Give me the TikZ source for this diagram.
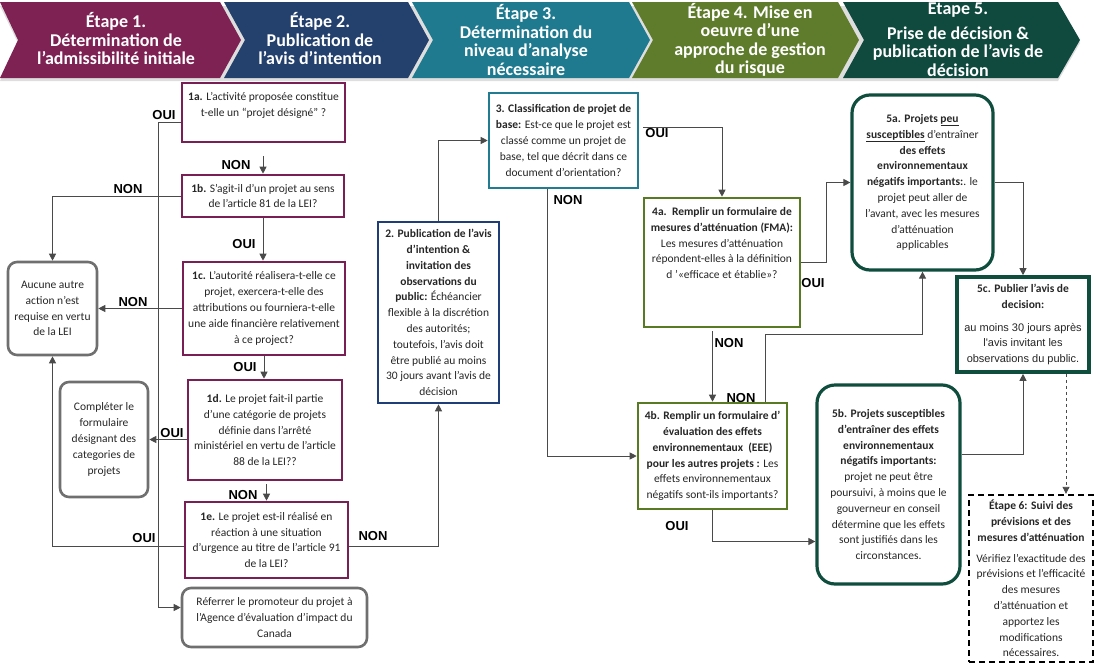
\documentclass[tikz,border=0pt]{standalone}
\usepackage{fontspec}
\setmainfont{Carlito}
\newfontfamily\arialfont{Liberation Sans}
\usetikzlibrary{arrows.meta}
\definecolor{stagea}{HTML}{7E2254}
\definecolor{stageb}{HTML}{24406C}
\definecolor{stagec}{HTML}{1F7A8F}
\definecolor{staged}{HTML}{5E7C2C}
\definecolor{stagee}{HTML}{104A3E}
\definecolor{purp}{HTML}{7A1E56}
\definecolor{navy}{HTML}{1F3E78}
\definecolor{teal}{HTML}{217C91}
\definecolor{olive}{HTML}{587A22}
\definecolor{dgreen}{HTML}{0F4D3D}
\definecolor{boxgrey}{HTML}{6F6F6F}
\definecolor{linkgrey}{HTML}{4A4A4A}
\definecolor{inkgrey}{HTML}{262626}
\begin{document}
\begin{tikzpicture}[x=1pt,y=-1pt,
  font=\fontsize{11.5}{15.8}\selectfont, text=inkgrey,
  stagetxt/.style={text=white, align=center, font=\fontsize{18}{18.5}\selectfont\bfseries},
  qbox/.style={draw=#1, line width=2.6pt, fill=white, align=center, inner sep=1pt},
  endbox/.style={draw=boxgrey, line width=2.6pt, rounded corners=9pt, align=center, inner sep=1pt},
  decbox/.style={draw=dgreen, line width=3.2pt, rounded corners=18pt, align=center, inner sep=1pt},
  yn/.style={text=black, font=\arialfont\fontsize{13}{13}\selectfont\bfseries},
  link/.style={draw=linkgrey, line width=0.9pt, -{Triangle[length=7pt,width=7pt]}}]
\useasboundingbox (0,0) rectangle (1100,667);

\fill[black!13] (0,6) -- (1058,6) -- (1080,43) -- (1058,81) -- (0,81) -- (18,43) -- cycle;
\fill[stagea] (0,2) -- (220,2) -- (241,40) -- (220,78) -- (0,78) -- (18,40) -- cycle;
\fill[stageb] (224,2) -- (408,2) -- (429,40) -- (408,78) -- (224,78) -- (245,40) -- cycle;
\fill[stagec] (412,2) -- (629,2) -- (650,40) -- (629,78) -- (412,78) -- (433,40) -- cycle;
\fill[staged] (632,2) -- (838,2) -- (859,40) -- (838,78) -- (632,78) -- (653,40) -- cycle;
\fill[stagee] (843,2) -- (1058,2) -- (1080,40) -- (1058,78) -- (843,78) -- (864,40) -- cycle;
\node[stagetxt] (etape1) at (116,39) {Étape 1.\\Détermination de\\l’admissibilité initiale};
\node[stagetxt] (etape2) at (320,39) {Étape 2.\\Publication de\\l'avis d'intention};
\node[stagetxt] (etape3) at (526,40) {Étape 3.\\Détermination du\\niveau d’analyse\\nécessaire};
\node[stagetxt] (etape4) at (750,40) {Étape 4. Mise en\\oeuvre d’une\\approche de gestion\\du risque};
\node[stagetxt] (etape5) at (958,38) {Étape 5.\\[6pt]Prise de décision \&\\publication de l'avis de\\décision};

\node[qbox=purp, minimum width=163, minimum height=59] (b1a) at (263.5,112.5)
  {\textbf{1a.} L’activité proposée constitue\\t-elle un “projet désigné” ?\\\mbox{}};
\node[qbox=purp, minimum width=162, minimum height=42] (b1b) at (263,196)
  {\textbf{1b.} S’agit-il d’un projet au sens\\de l’article 81 de la LEI?};
\node[qbox=purp, minimum width=162, minimum height=93] (b1c) at (264,308.5)
  {\textbf{1c.} L’autorité réalisera-t-elle ce\\projet, exercera-t-elle des\\attributions ou fourniera-t-elle\\une aide financière relativement\\à ce project?};
\node[qbox=purp, minimum width=154, minimum height=100] (b1d) at (265,430)
  {\textbf{1d.} Le projet fait-il partie\\d’une catégorie de projets\\définie dans l’arrêté\\ministériel en vertu de l’article\\88 de la LEI??};
\node[qbox=purp, minimum width=163, minimum height=76] (b1e) at (266.5,540)
  {\textbf{1e.} Le projet est-il réalisé en\\réaction à une situation\\d’urgence au titre de l’article 91\\de la LEI?};
\node[endbox, minimum width=89, minimum height=93] (aucune) at (52.5,308.5)
  {Aucune autre\\action n’est\\requise en vertu\\de la LEI};
\node[endbox, minimum width=88, minimum height=115] (completer) at (104,439.5)
  {Compléter le\\formulaire\\désignant des\\categories de\\projets};
\node[endbox, minimum width=185, minimum height=59] (referer) at (274.5,617.5)
  {Réferrer le promoteur du projet à\\l’Agence d’évaluation d’impact du\\Canada};
\node[qbox=navy, minimum width=121, minimum height=181] (b2) at (438.5,312.5)
  {\textbf{2. Publication de l’avis}\\\textbf{d’intention \&}\\\textbf{invitation des}\\\textbf{observations du}\\\textbf{public:} Échéancier\\flexible à la discrétion\\des autorités;\\toutefois, l’avis doit\\être publié au moins\\30 jours avant l’avis de\\décision};
\node[qbox=teal, minimum width=149, minimum height=95] (b3) at (563.5,140.5)
  {\textbf{3. Classification de projet de}\\\textbf{base:} Est-ce que le projet est\\classé comme un projet de\\base, tel que décrit dans ce\\document d’orientation?};
\node[qbox=olive, minimum width=156, minimum height=129] (b4a) at (722,262.5)
  {\textbf{4a.\ \ Remplir un formulaire de}\\\textbf{mesures d’atténuation (FMA):}\\Les mesures d'atténuation\\répondent-elles à la définition\\d '«efficace et établie»?\\[23pt]\mbox{}};
\node[qbox=olive, minimum width=149, minimum height=106] (b4b) at (712.5,456)
  {\textbf{4b. Remplir un formulaire d’}\\\textbf{évaluation des effets}\\\textbf{environnementaux\ \ (EEE)}\\\textbf{pour les autres projets :} Les\\effets environnementaux\\négatifs sont-ils importants?};
\node[decbox, minimum width=141, minimum height=175] (b5a) at (922.5,182.5)
  {\textbf{5a. Projets \underline{peu}}\\\textbf{\underline{susceptibles}} d’entraîner\\\textbf{des effets}\\\textbf{environnementaux}\\\textbf{négatifs importants:}. le\\projet peut aller de\\l'avant, avec les mesures\\d'atténuation\\applicables};
\node[decbox, minimum width=143, minimum height=199] (b5b) at (888.5,484.5)
  {\textbf{5b. Projets susceptibles}\\\textbf{d’entraîner des effets}\\\textbf{environnementaux}\\\textbf{négatifs importants:}\\projet ne peut être\\poursuivi, à moins que le\\gouverneur en conseil\\détermine que les effets\\sont justifiés dans les\\circonstances.};
\node[qbox=dgreen, line width=3.6pt, minimum width=132, minimum height=95] (b5c) at (1023,324.5)
  {\textbf{5c. Publier l’avis de}\\\textbf{decision:}\\[7pt]{\arialfont\fontsize{11}{15.8}\selectfont au moins 30 jours après}\\{\arialfont\fontsize{11}{15.8}\selectfont l'avis invitant les}\\{\arialfont\fontsize{11}{15.8}\selectfont observations du public.}};
\node[qbox=black, line width=2.4pt, dash pattern=on 6pt off 4pt, minimum width=124, minimum height=167] (b6) at (1031,578.5)
  {\textbf{Étape 6: Suivi des}\\\textbf{prévisions et des}\\\textbf{mesures d’atténuation}\\[5pt]Vérifiez l’exactitude des\\prévisions et l’efficacité\\des mesures\\d’atténuation et\\apportez les\\modifications\\nécessaires.};

\draw[link, shorten <=13pt] (b1a.south -| b1b.north) -- (b1b.north);
\draw[link] (b1b.west) -| (aucune.north);
\draw[link] (b1b.south) -- (b1b.south |- b1c.north);
\draw[link] (b1c.west) -- (aucune.east);
\draw[link] (b1c.south) -- (b1c.south |- b1d.north);
\draw[link] (completer.east -| b1d.west) -- (completer.east);
\draw[link, shorten <=3pt] (b1d.south -| b1e.north) -- (b1e.north);
\draw[link] ([yshift=-6pt]b1e.west) -| (aucune.south);
\draw[link] ([yshift=-6pt]b1e.east) -| (b2.south);
\draw[link] ([yshift=-10pt]b1a.west) -- ++(-22,0) |- ([yshift=10pt]referer.west);
\draw[link] (b2.north) |- (b3.west);
\draw[link] ([xshift=4pt,yshift=13pt]b3.east) -| (b4a.north);
\draw[link] ([xshift=-16pt]b3.south) |- (b4b.west);
\draw[link] (b4a.east) -- ++(25,0) |- (b5a.west);
\draw[link, shorten <=3pt] (b4a.south -| b4b.north) -- (b4b.north);
\draw[link] ([xshift=53pt]b4b.north) -- ++(0,-67) -| (b5a.south);
\draw[link] (b4b.south) |- ([yshift=-57pt]b5b.west);
\draw[link] (b5a.east) -| (b5c.north);
\draw[link] ([yshift=30pt]b5b.east) -| (b5c.south);
\draw[link, dashed] ([xshift=43pt]b5c.south) -- ([xshift=35pt]b6.north);

\node[yn] (oui1a) at (164,115) {OUI};
\node[yn] (non1a) at (236,165) {NON};
\node[yn] (non1b) at (128,189) {NON};
\node[yn] (oui1b) at (244,244) {OUI};
\node[yn] (non1c) at (133,302) {NON};
\node[yn] (oui1c) at (245,367) {OUI};
\node[yn] (oui1d) at (172,433) {OUI};
\node[yn] (non1d) at (243,495) {NON};
\node[yn] (oui1e) at (144,538) {OUI};
\node[yn] (non1e) at (373,536) {NON};
\node[yn] (non3) at (568,200) {NON};
\node[yn] (oui3) at (657,133) {OUI};
\node[yn] (oui4a) at (813,283) {OUI};
\node[yn] (non4a) at (729,343) {NON};
\node[yn] (non4b) at (741,398) {NON};
\node[yn] (oui4b) at (677,526) {OUI};
\end{tikzpicture}
\end{document}
